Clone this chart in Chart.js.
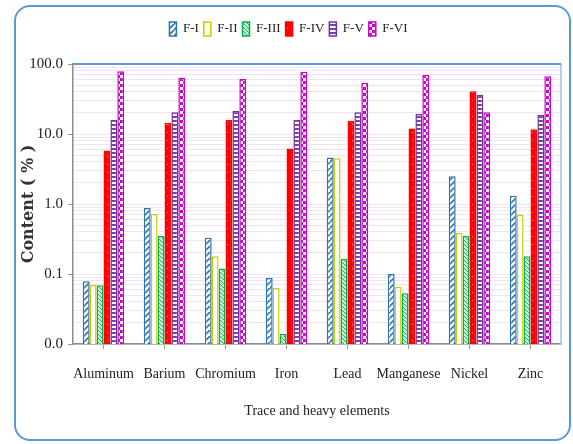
<!DOCTYPE html>
<html>
<head>
<meta charset="utf-8">
<script src="https://cdn.jsdelivr.net/npm/chart.js@4.4.1/dist/chart.umd.min.js"></script>
<style>
  html, body { margin: 0; padding: 0; background: #ffffff; }
  #wrap { position: relative; width: 573px; height: 444px; }
  #frame {
    position: absolute; left: 14px; top: 5px; width: 553px; height: 432px;
    border: 2px solid #5b9bd5; border-radius: 16px; pointer-events: none;
  }
  canvas { position: absolute; left: 0; top: 0; }
</style>
</head>
<body>
<div id="wrap">
  <canvas id="chart" width="573" height="444"></canvas>
  <div id="frame"></div>
</div>
<script>
// Elements and the six fractions (content in %)
const categories = ['Aluminum', 'Barium', 'Chromium', 'Iron', 'Lead', 'Manganese', 'Nickel', 'Zinc'];
const seriesNames = ['F-I', 'F-II', 'F-III', 'F-IV', 'F-V', 'F-VI'];
const fI   = [0.079, 0.88, 0.33, 0.088, 4.6, 0.10, 2.5, 1.31];
const fII  = [0.070, 0.72, 0.18, 0.063, 4.5, 0.066, 0.385, 0.70];
const fIII = [0.069, 0.35, 0.12, 0.014, 0.164, 0.053, 0.35, 0.18];
const fIV  = [5.8, 14.4, 16.0, 6.2, 15.5, 12.0, 40.7, 11.7];
const fV   = [16.0, 20.4, 21.5, 16.0, 20.4, 19.3, 36.5, 18.9];
const fVI  = [78.6, 63.8, 61.0, 77.6, 54.0, 69.7, 20.4, 66.7];
const yMin = 0.01, yMax = 100;

// Small tiled fills for each fraction
function makePattern(w, h, paint) {
  const c = document.createElement('canvas');
  c.width = w; c.height = h;
  const g = c.getContext('2d');
  paint(g, w, h);
  return g.createPattern(c, 'repeat');
}
const ctx = document.getElementById('chart').getContext('2d');

const patDiag = makePattern(6, 6, (g, w, h) => {
  g.fillStyle = '#ffffff'; g.fillRect(0, 0, w, h);
  g.strokeStyle = '#2e75b6'; g.lineWidth = 1.6;
  g.beginPath();
  g.moveTo(-1, h + 1); g.lineTo(w + 1, -1);
  g.moveTo(-1 - w, h + 1); g.lineTo(1, -1);
  g.moveTo(w - 1, 2 * h + 1); g.lineTo(2 * w + 1, h - 1);
  g.stroke();
});
const patDots = makePattern(6, 7, (g, w, h) => {
  g.fillStyle = '#ffffff'; g.fillRect(0, 0, w, h);
  g.fillStyle = '#e8e88a'; g.fillRect(2, 3, 1, 1);
});
const patGreen = makePattern(4, 4, (g, w, h) => {
  g.fillStyle = '#bfead0'; g.fillRect(0, 0, w, h);
  g.fillStyle = '#22b865';
  g.fillRect(0, 0, 1, 1); g.fillRect(2, 2, 1, 1);
  g.fillRect(1, 1, 1, 1); g.fillRect(3, 3, 1, 1);
  g.fillStyle = '#ffffff';
  g.fillRect(3, 1, 1, 1); g.fillRect(1, 3, 1, 1);
});
const patRed = makePattern(5, 8, (g, w, h) => {
  g.fillStyle = '#ff0000'; g.fillRect(0, 0, w, h);
  g.fillStyle = '#ff8a8a'; g.fillRect(2, 4, 1, 1);
});
const patStripe = makePattern(4, 4, (g, w, h) => {
  g.fillStyle = '#ffffff'; g.fillRect(0, 0, w, h);
  g.fillStyle = '#7a3fa8'; g.fillRect(0, 0, w, 2);
});
const patCheck = makePattern(6, 6, (g, w, h) => {
  g.fillStyle = '#ffffff'; g.fillRect(0, 0, w, h);
  g.fillStyle = '#cc00cc';
  g.fillRect(0, 0, 3, 3); g.fillRect(3, 3, 3, 3);
});

const fills = [patDiag, patDots, patGreen, patRed, patStripe, patCheck];
const edges = ['#2e75b6', '#cccc00', '#00b050', '#ff0000', '#7030a0', '#cc00cc'];
const values = [fI, fII, fIII, fIV, fV, fVI];

const datasets = seriesNames.map((name, i) => ({
  label: name,
  data: values[i],
  backgroundColor: fills[i],
  borderColor: edges[i],
  borderWidth: 1.5,
  categoryPercentage: 0.68,
  barPercentage: 1.0
}));

const isDecade = v => Math.abs(Math.log10(v) - Math.round(Math.log10(v))) < 1e-6;

// Extra space between the legend and the plot area
const legendGap = {
  id: 'legendGap',
  beforeInit(chart) {
    const lg = chart.legend;
    if (!lg) return;
    const fit = lg.fit;
    lg.fit = function () { fit.call(this); this.height += 18; };
  }
};

// Blue outline along the top and right of the plot area
const plotOutline = {
  id: 'plotOutline',
  afterDatasetsDraw(chart) {
    const a = chart.chartArea, c = chart.ctx;
    c.save();
    c.strokeStyle = '#9dc3e6'; c.lineWidth = 1.5;
    c.beginPath(); c.moveTo(a.right, a.top); c.lineTo(a.right, a.bottom); c.stroke();
    c.strokeStyle = '#5b9bd5'; c.lineWidth = 2;
    c.beginPath(); c.moveTo(a.left, a.top); c.lineTo(a.right, a.top); c.stroke();
    c.restore();
  }
};

new Chart(ctx, {
  type: 'bar',
  data: { labels: categories, datasets },
  plugins: [legendGap, plotOutline],
  options: {
    responsive: false,
    animation: false,
    layout: { padding: { left: 16, right: 12, top: 17, bottom: 20 } },
    plugins: {
      tooltip: { enabled: false },
      legend: {
        position: 'top',
        labels: {
          boxWidth: 7, boxHeight: 14, padding: 5,
          color: '#222',
          font: { family: 'Liberation Serif', size: 13 }
        }
      }
    },
    scales: {
      x: {
        afterFit: s => { s.height = 80; },
        grid: {
          offset: false, drawOnChartArea: false, drawTicks: true,
          tickLength: 5, tickColor: '#999'
        },
        border: { color: '#8c8c8c', width: 1.5 },
        ticks: {
          color: '#222', padding: 17, maxRotation: 0, autoSkip: false,
          font: { family: 'Liberation Serif', size: 14 }
        },
        title: {
          display: true, text: 'Trace and heavy elements', color: '#222',
          font: { family: 'Liberation Serif', size: 14 }, padding: { top: 4, bottom: 4 }
        }
      },
      y: {
        type: 'logarithmic', min: yMin, max: yMax,
        afterFit: s => { s.width = 57; },
        afterBuildTicks: s => {
          const t = [];
          for (let e = -2; e <= 2; e++) {
            for (let m = 1; m <= 9; m++) {
              const v = +(m * Math.pow(10, e)).toPrecision(3);
              if (v > yMax + 1e-9) break;
              t.push({ value: v });
            }
          }
          s.ticks = t;
        },
        grid: {
          color: 'rgba(232,205,240,0.55)',
          tickColor: ctx => (ctx.tick && isDecade(ctx.tick.value)) ? '#999' : 'rgba(0,0,0,0)',
          tickLength: 5
        },
        border: { color: '#8c8c8c', width: 1.5 },
        ticks: {
          autoSkip: false, padding: 5, color: '#222',
          font: { family: 'Liberation Serif', size: 15 },
          callback: v => isDecade(v) ? Number(v).toFixed(1) : ''
        },
        title: {
          display: true, text: 'Content ( % )', color: '#333',
          font: { family: 'DejaVu Serif', size: 16, weight: 'bold' }, padding: { top: 3, bottom: 2 }
        }
      }
    }
  }
});
</script>
</body>
</html>
